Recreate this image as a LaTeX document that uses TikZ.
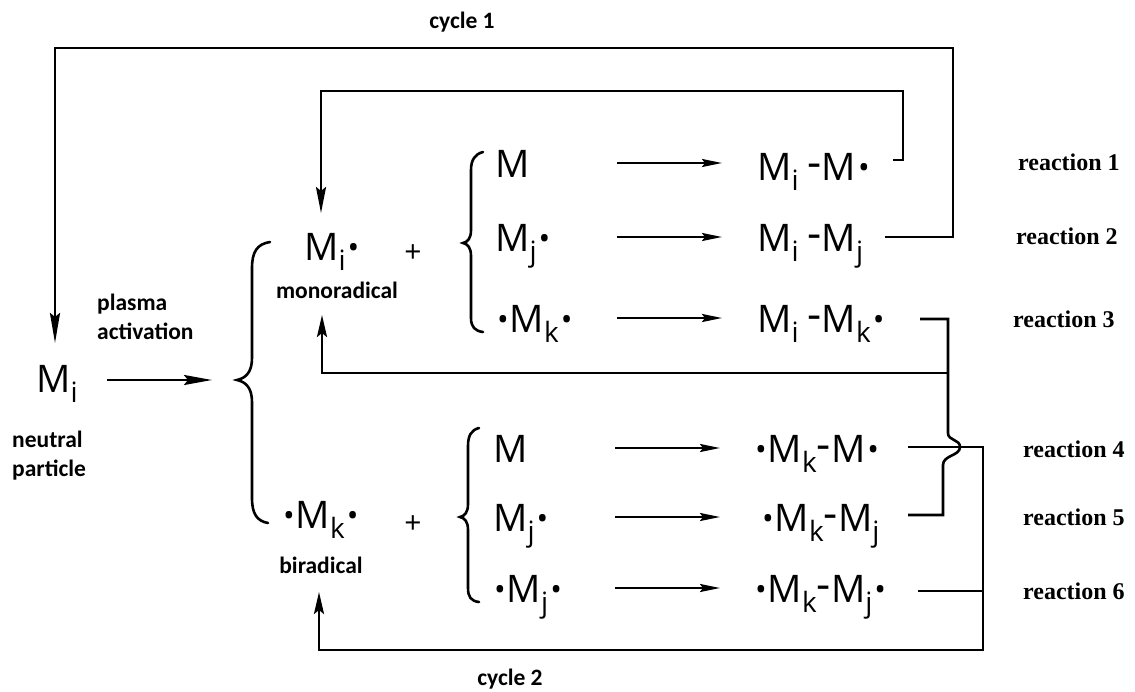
\documentclass[tikz,border=0pt]{standalone}
\usepackage{fontspec}
\setmainfont{Open Sans}
\newfontfamily\labfont{Carlito}
\newfontfamily\rxnfont{Liberation Serif}
\usetikzlibrary{arrows.meta}
\newcommand\sbs[1]{\raisebox{-10pt}{\fontsize{28}{28}\selectfont #1}}
\newcommand\rad{\kern2pt\raisebox{2pt}{\fontsize{31}{31}\selectfont •}}
\newcommand\lrad{\raisebox{2pt}{\fontsize{31}{31}\selectfont •}\kern1pt}
\newcommand\bond{\raisebox{3pt}{\fontsize{44}{44}\selectfont -}}
\begin{document}
\begin{tikzpicture}[x=1pt,y=-1pt,
  chem/.style={font=\fontsize{38}{38}\selectfont, inner sep=0pt, anchor=base west},
  plus/.style={font=\fontsize{30}{30}\selectfont, inner sep=0pt, anchor=base},
  lab/.style={font=\labfont\bfseries\fontsize{23.5}{29}\selectfont, inner sep=0pt, align=left},
  rxn/.style={font=\rxnfont\bfseries\fontsize{24}{24}\selectfont, inner sep=0pt, anchor=base west},
  rarrow/.style={line width=2.2pt, -{Stealth[length=20pt,width=8pt,inset=3pt]}},
  bigarrow/.style={line width=2.4pt, -{Stealth[length=28pt,width=10pt,inset=4pt]}},
  link/.style={line width=2.6pt, line join=miter},
  brc/.style={line width=2.6pt, line cap=round},
]
\useasboundingbox (0,0) rectangle (1135,691);

% ---------- labels ----------
\node[lab,anchor=base] (c1) at (462,28) {cycle 1};
\node[lab,anchor=base] (c2) at (510,685) {cycle 2};
\node[lab,anchor=north west] (pa) at (97,294) {plasma\\activation};
\node[lab,anchor=north west] (np) at (12,431) {neutral\\particle};
\node[lab,anchor=base] (monol) at (337,298) {monoradical};
\node[lab,anchor=base] (bil) at (321,573) {biradical};

% ---------- species ----------
\node[chem] (Mi) at (36,392) {M\sbs{i}};
\node[chem] (mono) at (304,260) {M\sbs{i}\rad};
\node[chem] (bi) at (283,528) {\lrad M\sbs{k}\rad};
\node[plus] (p1) at (413,262) {+};
\node[plus] (p2) at (413,533) {+};

\node[chem] (ra1) at (495,177) {M};
\node[chem] (ra2) at (495,251) {M\sbs{j}\rad};
\node[chem] (ra3) at (497,332) {\lrad M\sbs{k}\rad};
\node[chem] (rb1) at (493,462) {M};
\node[chem] (rb2) at (493,531) {M\sbs{j}\rad};
\node[chem] (rb3) at (494,602) {\lrad M\sbs{j}\rad};

\node[chem] (pa1) at (757,180) {M\sbs{i}\hspace{9pt}\bond M\rad};
\node[chem] (pa2) at (757,251) {M\sbs{i}\hspace{9pt}\bond M\sbs{j}};
\node[chem] (pa3) at (757,332) {M\sbs{i}\hspace{9pt}\bond M\sbs{k}\rad};
\node[chem] (pb1) at (755,462) {\lrad M\sbs{k}\bond M\rad};
\node[chem] (pb2) at (762,531) {\lrad M\sbs{k}\bond M\sbs{j}};
\node[chem] (pb3) at (755,602) {\lrad M\sbs{k}\bond M\sbs{j}\rad};

\node[rxn] (x1) at (1018,170) {reaction 1};
\node[rxn] (x2) at (1016,244) {reaction 2};
\node[rxn] (x3) at (1013,327) {reaction 3};
\node[rxn] (x4) at (1023,457) {reaction 4};
\node[rxn] (x5) at (1023,525) {reaction 5};
\node[rxn] (x6) at (1023,599) {reaction 6};

% ---------- braces ----------
\draw[brc] (270,242) .. controls (257,244) and (252,252) .. (252,268) -- (252,358)
  .. controls (252,372) and (246,378) .. (237,380)
  .. controls (246,382) and (252,388) .. (252,402) -- (252,498)
  .. controls (252,514) and (257,521) .. (268,523);
\draw[brc] (483,152) .. controls (475,154) and (471,160) .. (471,170) -- (471,230)
  .. controls (471,238) and (468,242) .. (463,243)
  .. controls (468,244) and (471,248) .. (471,256) -- (471,318)
  .. controls (471,327) and (475,331) .. (483,332);
\draw[brc] (479,428) .. controls (471,430) and (468,436) .. (468,446) -- (468,504)
  .. controls (468,512) and (465,516) .. (460,517)
  .. controls (465,518) and (468,522) .. (468,530) -- (468,588)
  .. controls (468,597) and (471,601) .. (479,602);

% ---------- reaction arrows ----------
\coordinate (pl0) at (107,380); \coordinate (pl1) at (212,380);
\draw[bigarrow] (pl0) -- (pl1);
\foreach \n/\y in {1/163,2/237,3/318}{
  \coordinate (as\n) at (617,\y); \coordinate (ae\n) at (722,\y);
  \draw[rarrow] (as\n) -- (ae\n);}
\foreach \n/\y in {4/448,5/517,6/588}{
  \coordinate (as\n) at (615,\y); \coordinate (ae\n) at (720,\y);
  \draw[rarrow] (as\n) -- (ae\n);}

% ---------- feedback connectors ----------
\coordinate (e1) at (893,160); \coordinate (e2) at (885,237);
\coordinate (e3) at (920,319); \coordinate (e4) at (908,447);
\coordinate (e5) at (908,515); \coordinate (e6) at (918,591);
\coordinate (tMi) at (55,343); \coordinate (tmono) at (321,213);
\coordinate (umono) at (322,315); \coordinate (ubi) at (319,592);

% cycle 1 (outer)
\draw[link,-{Stealth[length=30pt,width=10pt,inset=4pt]}] (e2) -- (953,237) -- (953,48) -- (55,48) -- (tMi);
% inner loop
\draw[link,-{Stealth[length=26pt,width=10pt,inset=4pt]}] (e1) -- (903,160) -- (903,91) -- (321,91) -- (tmono);
% reaction 3 and 5 back to monoradical
\draw[link] (e3) -- (948,319) -- (948,433)
  .. controls (948,441) and (960,439) .. (960,447)
  .. controls (960,456) and (943,455) .. (943,465) -- (943,515) -- (e5);
\draw[link,-{Stealth[length=22pt,width=10pt,inset=4pt]}] (948,373) -- (322,373) -- (umono);
% cycle 2: reactions 4 and 6 back to biradical
\draw[link,-{Stealth[length=22pt,width=10pt,inset=4pt]}] (e4) -- (983,447) -- (983,650) -- (319,650) -- (ubi);
\draw[link] (e6) -- (983,591);
\end{tikzpicture}
\end{document}
